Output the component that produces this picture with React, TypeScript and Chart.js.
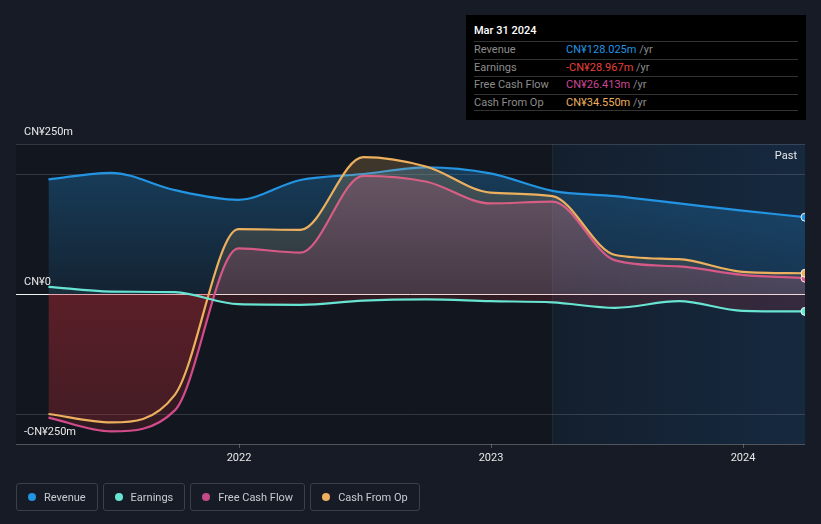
import React, { useEffect, useRef } from "react";
import { Chart, registerables } from "chart.js";

Chart.register(...registerables);

// ---------- data ----------
const dates = [
  "2021-03-31", "2021-06-30", "2021-09-30", "2021-12-31",
  "2022-03-31", "2022-06-30", "2022-09-30", "2022-12-31",
  "2023-03-31", "2023-06-30", "2023-09-30", "2023-12-31",
  "2024-03-31",
];
const revenue = [191, 202, 173, 157, 190, 200, 211, 201, 172, 163, 151, 139, 128.025];
const earnings = [12, 4, 3, -17, -18, -11, -9, -12, -14, -23, -12, -28, -28.967];
const freeCashFlow = [-206, -229, -194, 76, 69, 197, 187, 151, 154, 56, 46, 32, 26.413];
const cashFromOp = [-200, -214, -168, 108, 107, 228, 212, 169, 163, 65, 58, 37, 34.55];

const xTicks = [2022, 2023, 2024];
const yGrid = [-250, -200, 0, 200, 250];
const yLabelValues = [250, 0, -250];
const yLabelTexts = ["CN¥250m", "CN¥0", "-CN¥250m"];
const pastStart = "2023-03-31";
const xMin = 2021.115;

const seriesNames = ["Revenue", "Earnings", "Free Cash Flow", "Cash From Op"];
const tooltipTitle = "Mar 31 2024";
const tooltipValues = ["CN¥128.025m", "-CN¥28.967m", "CN¥26.413m", "CN¥34.550m"];

// ---------- styles ----------
const C_REV = "rgb(35,148,226)";
const C_EARN = "rgb(104,228,210)";
const C_FCF = "rgb(210,76,140)";
const C_CFO = "rgb(236,176,94)";
const legendColors = [C_REV, C_EARN, "rgb(196,74,136)", C_CFO];
const tooltipColors = [C_REV, "rgb(232,64,58)", "rgb(206,70,150)", C_CFO];

function toYear(s: string): number {
  const d = new Date(s + "T00:00:00Z");
  const y = d.getUTCFullYear();
  const start = Date.UTC(y, 0, 1);
  const end = Date.UTC(y + 1, 0, 1);
  return y + (d.getTime() - start) / (end - start);
}

function pts(values: number[]) {
  return dates.map((d, i) => ({ x: toYear(d), y: values[i] }));
}

function gradFill(aboveTop: string, aboveZero: string, belowZero: string, belowBottom: string) {
  return (context: any) => {
    const chart = context.chart;
    const a = chart.chartArea;
    if (!a) return aboveZero;
    const y = chart.scales.y;
    const z = Math.min(0.999, Math.max(0.001, (y.getPixelForValue(0) - a.top) / (a.bottom - a.top)));
    const g = chart.ctx.createLinearGradient(0, a.top, 0, a.bottom);
    g.addColorStop(0, aboveTop);
    g.addColorStop(z, aboveZero);
    g.addColorStop(z, belowZero);
    g.addColorStop(1, belowBottom);
    return g;
  };
}

const lastOnly = (r: number) => dates.map((_, i) => (i === dates.length - 1 ? r : 0));

const decorPlugin = {
  id: "decor",
  beforeDatasetsDraw(chart: any) {
    const { ctx, chartArea: a, scales } = chart;
    const x = scales.x;
    const y = scales.y;
    ctx.save();
    // plot background
    ctx.fillStyle = "rgb(18,22,30)";
    ctx.fillRect(a.left, a.top, a.width, a.height);
    // past region
    const px = x.getPixelForValue(toYear(pastStart));
    const pg = ctx.createLinearGradient(px, 0, a.right, 0);
    pg.addColorStop(0, "rgba(30,85,140,0.14)");
    pg.addColorStop(1, "rgba(30,85,140,0.3)");
    ctx.fillStyle = pg;
    ctx.fillRect(px, a.top, a.right - px, a.height);
    ctx.strokeStyle = "rgba(255,255,255,0.06)";
    ctx.lineWidth = 1;
    ctx.beginPath();
    ctx.moveTo(Math.round(px) + 0.5, a.top);
    ctx.lineTo(Math.round(px) + 0.5, a.bottom);
    ctx.stroke();
    // grid lines
    for (const v of yGrid) {
      if (v === 0) continue;
      const py = Math.round(y.getPixelForValue(v)) + 0.5;
      ctx.strokeStyle = v === -250 ? "rgba(255,255,255,0.25)" : "rgba(255,255,255,0.14)";
      ctx.beginPath();
      ctx.moveTo(a.left, py);
      ctx.lineTo(a.right, py);
      ctx.stroke();
    }
    // year ticks
    ctx.strokeStyle = "rgba(255,255,255,0.25)";
    for (const t of xTicks) {
      const tx = Math.round(x.getPixelForValue(t)) + 0.5;
      ctx.beginPath();
      ctx.moveTo(tx, a.bottom);
      ctx.lineTo(tx, a.bottom + 4);
      ctx.stroke();
    }
    // zero line
    const zy = Math.round(y.getPixelForValue(0)) + 0.5;
    ctx.strokeStyle = "rgba(255,255,255,0.95)";
    ctx.beginPath();
    ctx.moveTo(a.left, zy);
    ctx.lineTo(a.right, zy);
    ctx.stroke();
    ctx.restore();
  },
  afterDraw(chart: any) {
    const { ctx, chartArea: a, scales } = chart;
    const x = scales.x;
    const y = scales.y;
    ctx.save();
    ctx.font = "11px Roboto, sans-serif";
    ctx.fillStyle = "rgb(232,232,232)";
    ctx.textBaseline = "middle";
    ctx.textAlign = "left";
    yLabelValues.forEach((v, i) => {
      ctx.fillText(yLabelTexts[i], a.left + 8, y.getPixelForValue(v) - 12);
    });
    ctx.textAlign = "center";
    for (const t of xTicks) {
      ctx.fillText(String(t), x.getPixelForValue(t), a.bottom + 14);
    }
    ctx.textAlign = "right";
    ctx.fillText("Past", a.right - 8, a.top + 12);
    ctx.restore();
  },
};

export default function App() {
  const ref = useRef<HTMLCanvasElement>(null);

  useEffect(() => {
    document.body.style.margin = "0";
    const canvas = ref.current!;
    const common = {
      borderWidth: 2.2,
      fill: "origin",
      cubicInterpolationMode: "monotone" as const,
      pointRadius: lastOnly(4),
      pointHoverRadius: 0,
      pointBorderColor: "rgba(255,255,255,0.9)",
      pointBorderWidth: 1,
    };
    const chart = new Chart(canvas, {
      type: "line",
      data: {
        datasets: [
          {
            ...common,
            label: seriesNames[0],
            data: pts(revenue),
            borderColor: C_REV,
            pointBackgroundColor: C_REV,
            backgroundColor: gradFill("rgba(35,148,226,0.34)", "rgba(35,148,226,0.1)", "rgba(0,0,0,0)", "rgba(0,0,0,0)"),
            order: 4,
          },
          {
            ...common,
            label: seriesNames[1],
            data: pts(earnings),
            borderColor: C_EARN,
            pointBackgroundColor: C_EARN,
            backgroundColor: gradFill("rgba(104,228,210,0.08)", "rgba(104,228,210,0.06)", "rgba(220,50,60,0.16)", "rgba(220,50,60,0.08)"),
            order: 0,
          },
          {
            ...common,
            label: seriesNames[2],
            data: pts(freeCashFlow),
            borderColor: C_FCF,
            pointBackgroundColor: C_FCF,
            backgroundColor: gradFill("rgba(210,76,140,0.28)", "rgba(210,76,140,0.16)", "rgba(210,45,55,0.26)", "rgba(210,45,55,0.15)"),
            order: 2,
          },
          {
            ...common,
            label: seriesNames[3],
            data: pts(cashFromOp),
            borderColor: C_CFO,
            pointBackgroundColor: C_CFO,
            backgroundColor: gradFill("rgba(236,176,94,0.22)", "rgba(236,176,94,0.1)", "rgba(210,45,55,0.16)", "rgba(210,45,55,0.1)"),
            order: 1,
          },
        ] as any,
      },
      options: {
        animation: false,
        responsive: false,
        maintainAspectRatio: false,
        layout: { padding: { left: 16, right: 16, top: 144, bottom: 80 } },
        scales: {
          x: { type: "linear", min: xMin, max: toYear(dates[dates.length - 1]), display: false },
          y: { min: -250, max: 250, display: false },
        },
        plugins: {
          legend: { display: false },
          tooltip: { enabled: false },
        },
        events: [],
      },
      plugins: [decorPlugin],
    });
    return () => chart.destroy();
  }, []);

  const font = "Roboto, sans-serif";

  return (
    <div
      style={{
        position: "relative",
        width: 821,
        height: 524,
        background: "rgb(22,27,37)",
        fontFamily: font,
        overflow: "hidden",
      }}
    >
      <canvas ref={ref} width={821} height={524} style={{ position: "absolute", left: 0, top: 0 }} />

      {/* tooltip box */}
      <div
        style={{
          position: "absolute",
          left: 466,
          top: 15,
          width: 340,
          height: 105,
          background: "#000",
          fontSize: 11,
        }}
      >
        <div style={{ position: "absolute", left: 8, top: 9, color: "#fff", lineHeight: "14px", fontWeight: 500 }}>
          {tooltipTitle}
        </div>
        <div style={{ position: "absolute", left: 8, top: 26, width: 324 }}>
          {seriesNames.map((n, i) => (
            <div
              key={n}
              style={{
                position: "relative",
                height: 17.5,
                boxSizing: "border-box",
                borderTop: "1px solid #333",
                borderBottom: i === seriesNames.length - 1 ? "1px solid #333" : "none",
                lineHeight: "16px",
              }}
            >
              <span style={{ position: "absolute", left: 0, color: "#8c8c8c" }}>{n}</span>
              <span style={{ position: "absolute", left: 92 }}>
                <span style={{ color: tooltipColors[i] }}>{tooltipValues[i]}</span>
                <span style={{ color: "#8c8c8c" }}> /yr</span>
              </span>
            </div>
          ))}
        </div>
      </div>

      {/* legend */}
      <div style={{ position: "absolute", left: 16, top: 483, display: "flex", gap: 5 }}>
        {seriesNames.map((n, i) => (
          <div
            key={n}
            style={{
              height: 28,
              boxSizing: "border-box",
              border: "1px solid rgb(58,63,74)",
              borderRadius: 3,
              padding: "0 11px 0 11px",
              display: "flex",
              alignItems: "center",
              gap: 8,
              color: "rgb(200,204,210)",
              fontSize: 11,
            }}
          >
            <span style={{ width: 8, height: 8, borderRadius: "50%", background: legendColors[i], display: "inline-block" }} />
            <span>{n}</span>
          </div>
        ))}
      </div>
    </div>
  );
}
